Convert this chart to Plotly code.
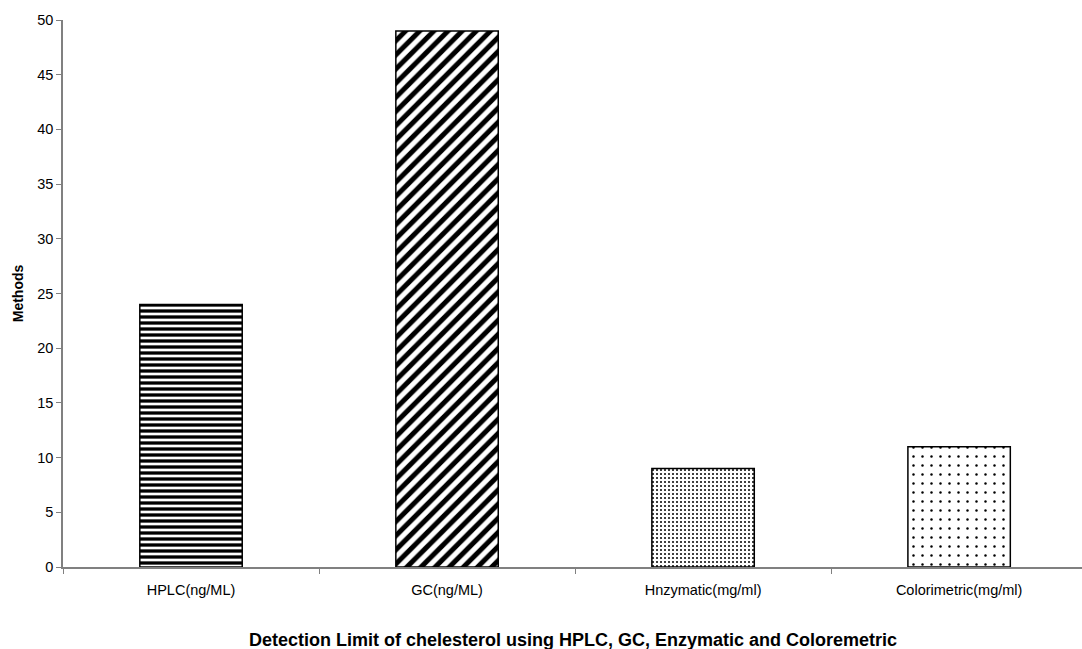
import plotly.graph_objects as go

categories = ["HPLC(ng/ML)", "GC(ng/ML)", "Hnzymatic(mg/ml)", "Colorimetric(mg/ml)"]
values = [24, 49, 9, 11]
y_ticks = [0, 5, 10, 15, 20, 25, 30, 35, 40, 45, 50]

patterns = ["-", "/", ".", "."]
pattern_sizes = [6, 10, 4, 9]
pattern_solidity = [0.55, 0.5, 0.2, 0.06]

fig = go.Figure()
for i, (c, v) in enumerate(zip(categories, values)):
    fig.add_trace(go.Bar(
        x=[c], y=[v], width=0.4,
        marker=dict(
            color="white",
            line=dict(color="black", width=1.5),
            pattern=dict(shape=patterns[i], size=pattern_sizes[i],
                         solidity=pattern_solidity[i], fgcolor="black",
                         bgcolor="white", fillmode="overlay", fgopacity=1),
        ),
        showlegend=False,
    ))

fig.update_layout(
    width=1082, height=649,
    margin=dict(l=63, r=0, t=20, b=82),
    plot_bgcolor="white", paper_bgcolor="white",
    font=dict(family="Liberation Sans, Arial", size=14.5, color="black"),
    bargap=0.6,
)
fig.update_xaxes(
    type="category", categoryorder="array", categoryarray=categories,
    range=[-0.5, 3.48],
    showline=True, linecolor="#808080", linewidth=1.5,
    ticks="outside", tickson="boundaries", ticklen=5, tickcolor="#808080",
    showgrid=False, ticklabelstandoff=9,
)
fig.update_yaxes(
    range=[0, 50], tickvals=y_ticks,
    showline=True, linecolor="#808080", linewidth=1.5,
    ticks="outside", ticklen=5, tickcolor="#808080",
    showgrid=False, zeroline=False,
    title=dict(text="<b>Methods</b>", font=dict(size=14, color="black"), standoff=10),
)
fig.add_annotation(
    text="<b>Detection Limit of chelesterol using HPLC, GC, Enzymatic and Coloremetric</b>",
    xref="paper", yref="paper", x=0.5, y=-0.1335, xanchor="center", yanchor="middle",
    showarrow=False, font=dict(size=18, color="black"),
)
fig.write_html("out.html", config={"displayModeBar": False},
               post_script="document.body.style.margin='0';")
